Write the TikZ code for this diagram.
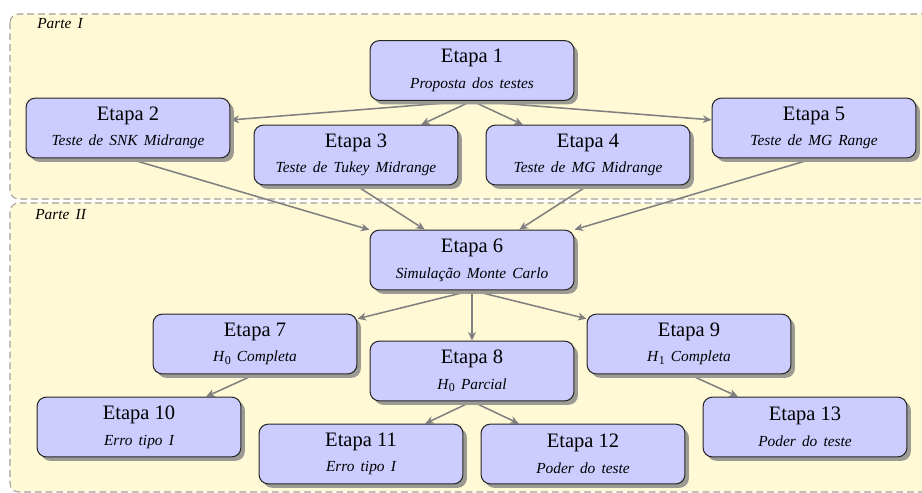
\documentclass[tikz,border=0pt]{standalone}
\usepackage{fontspec}
\setmainfont{Liberation Serif}
\usetikzlibrary{shadows,arrows.meta,backgrounds}
\definecolor{partefill}{RGB}{255,249,214}
\definecolor{boxfill}{RGB}{204,204,255}
\definecolor{shadowgray}{RGB}{155,155,148}
\definecolor{linegray}{RGB}{128,128,128}
\definecolor{dashgray}{RGB}{160,160,160}
\newcommand\etp[2]{{\large Etapa #1}\\[4pt]{\itshape\spaceskip=0.4em #2}}
\newcommand\hsub[1]{\textit{H}\kern0.3pt\raisebox{-1.6pt}{\upshape\scriptsize #1}}
\begin{document}
\begin{tikzpicture}[x=0.585pt,y=-0.585pt,
  etapa/.style={draw=black!85, line width=0.6pt, fill=boxfill, rounded corners=5.5pt,
    minimum width=119.3pt, minimum height=35pt, align=center, inner sep=2pt, font=\small,
    drop shadow={shadow xshift=2.3pt, shadow yshift=-2.3pt, fill=shadowgray, opacity=1}},
  parte/.style={draw=dashgray, dash pattern=on 4pt off 2.3pt, line width=0.6pt,
    fill=partefill, rounded corners=5pt},
  conn/.style={draw=linegray, line width=0.9pt, -{Stealth[length=5pt,width=4.5pt,inset=1.5pt]}},
  lbl/.style={font=\small\itshape, anchor=west, inner sep=0pt}]
\useasboundingbox (0,0) rectangle (922,493);

\node[etapa] (e1) at (472,70.5) {\etp{1}{Proposta dos testes}};
\node[etapa] (e2) at (128,128) {\etp{2}{Teste de SNK Midrange}};
\node[etapa] (e3) at (356,155) {\etp{3}{Teste de Tukey Midrange}};
\node[etapa] (e4) at (588,155) {\etp{4}{Teste de MG Midrange}};
\node[etapa] (e5) at (814,128) {\etp{5}{Teste de MG Range}};
\node[etapa] (e6) at (472,260) {\etp{6}{Simulação Monte Carlo}};
\node[etapa] (e7) at (255,344) {\etp{7}{\hsub{0} Completa}};
\node[etapa] (e8) at (472,371) {\etp{8}{\hsub{0} Parcial}};
\node[etapa] (e9) at (689,344) {\etp{9}{\hsub{1} Completa}};
\node[etapa] (e10) at (139,427) {\etp{10}{Erro tipo I}};
\node[etapa] (e11) at (361,454) {\etp{11}{Erro tipo I}};
\node[etapa] (e12) at (583,454) {\etp{12}{Poder do teste}};
\node[etapa] (e13) at (805,427) {\etp{13}{Poder do teste}};

\node[lbl] (p1) at (37,24) {\spaceskip=0.4em Parte I};
\node[lbl] (p2) at (35,215) {\spaceskip=0.4em Parte II};

\begin{scope}[on background layer]
  \draw[parte] (10,14) rectangle (940,199);
  \draw[parte] (10,203) rectangle (940,492);
  \draw[conn] (e1.south) -- (e2);
  \draw[conn] (e1.south) -- (e3);
  \draw[conn] (e1.south) -- (e4);
  \draw[conn] (e1.south) -- (e5);
  \draw[conn] (e2.south) -- (e6);
  \draw[conn] (e3.south) -- (e6);
  \draw[conn] (e4.south) -- (e6);
  \draw[conn] (e5.south) -- (e6);
  \draw[conn] (e6.south) -- (e7);
  \draw[conn] (e6.south) -- (e8);
  \draw[conn] (e6.south) -- (e9);
  \draw[conn] (e7.south) -- (e10);
  \draw[conn] (e8.south) -- (e11);
  \draw[conn] (e8.south) -- (e12);
  \draw[conn] (e9.south) -- (e13);
\end{scope}
\end{tikzpicture}
\end{document}
